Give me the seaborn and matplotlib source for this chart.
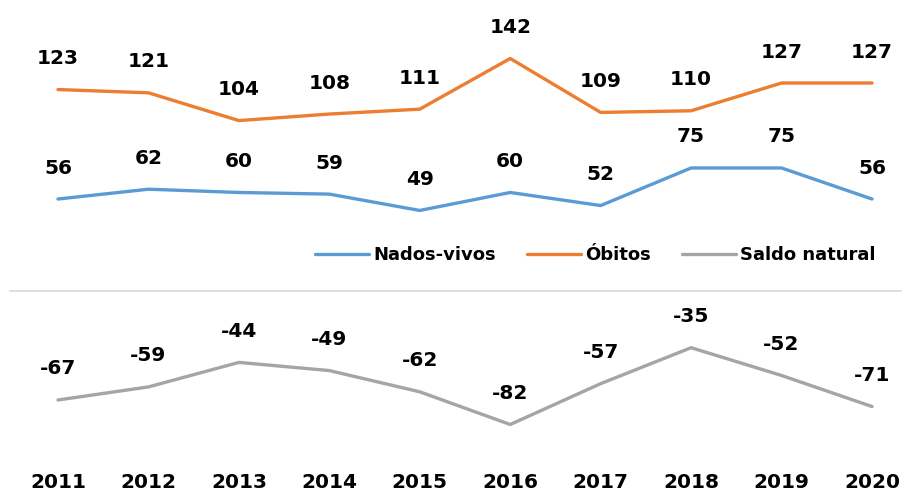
import pandas as pd
import matplotlib
matplotlib.use('Agg')
import matplotlib.pyplot as plt
import seaborn as sns

# data
anos = [2011, 2012, 2013, 2014, 2015, 2016, 2017, 2018, 2019, 2020]
nados_vivos = [56, 62, 60, 59, 49, 60, 52, 75, 75, 56]
obitos = [123, 121, 104, 108, 111, 142, 109, 110, 127, 127]
saldo_natural = [-67, -59, -44, -49, -62, -82, -57, -35, -52, -71]

series = ['Nados-vivos', 'Óbitos', 'Saldo natural']
cores = ['#5B9BD5', '#ED7D31', '#A5A5A5']

df = pd.DataFrame({
    'ano': anos * 3,
    'valor': nados_vivos + obitos + saldo_natural,
    'serie': [s for s in series for _ in anos],
})

sns.set_theme(style='white')
plt.rcParams['font.family'] = ['DejaVu Sans']
plt.rcParams['text.color'] = 'black'
plt.rcParams['xtick.color'] = 'black'

fig = plt.figure(figsize=(9.03, 4.91), dpi=100)
ax = fig.add_axes([0, 25 / 491, 1, 466 / 491])

sns.lineplot(data=df, x='ano', y='valor', hue='serie', hue_order=series,
             palette=cores, linewidth=2.4, ax=ax)

# data labels above each point
for _, row in df.iterrows():
    ax.annotate(str(row['valor']), (row['ano'], row['valor']),
                xytext=(0, 31), textcoords='offset pixels',
                ha='center', va='center', fontsize=14.5, fontweight='bold',
                color='black')

# zero line
ax.axhline(0, xmin=0.011, xmax=1, color='#D9D9D9', linewidth=1.2, zorder=0)

ax.set_xlim(2011 - 58 / 90.44, 2020 + 31 / 90.44)
ax.set_ylim(-107.4, 177.8)
ax.set_xticks(anos)
ax.set_xticklabels([str(a) for a in anos], fontsize=14.5, fontweight='bold')
ax.tick_params(axis='x', length=0, pad=5)
ax.set_yticks([])
ax.set_xlabel('')
ax.set_ylabel('')
for s in ax.spines.values():
    s.set_visible(False)

handles, labels = ax.get_legend_handles_labels()
ax.legend(handles, labels, loc='center right', ncol=3, frameon=False,
          bbox_to_anchor=(876 / 903, 1 - 255 / 491), bbox_transform=fig.transFigure,
          prop={'weight': 'bold', 'size': 13}, handlelength=3,
          handletextpad=0.25, columnspacing=1.7, borderaxespad=0, borderpad=0)

fig.savefig('out.png', dpi=100)
